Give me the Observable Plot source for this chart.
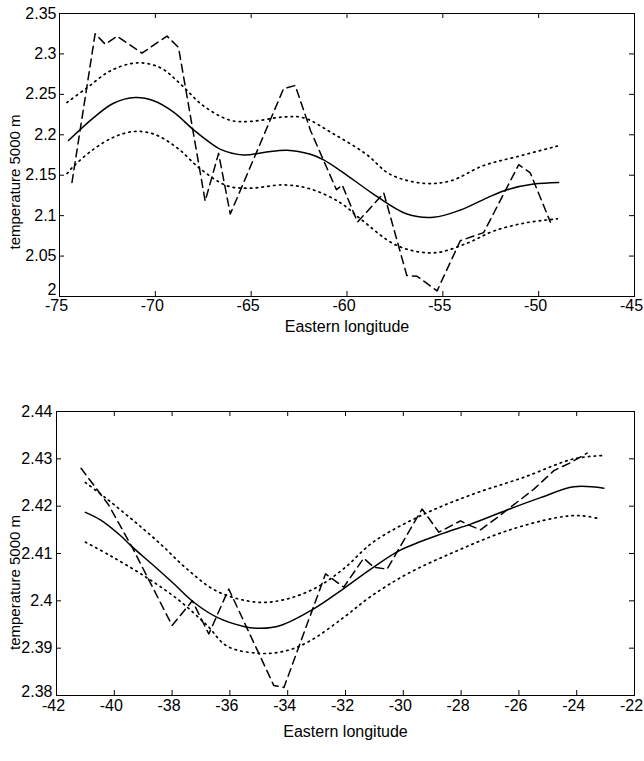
<!DOCTYPE html>
<html><head><meta charset="utf-8">
<script src="https://cdn.jsdelivr.net/npm/d3@7"></script>
<script src="https://cdn.jsdelivr.net/npm/@observablehq/plot@0.6"></script>
<style>body{margin:0;background:#fff} svg{display:block}</style>
</head><body><div id="chart"></div>
<script>
const xLabel = "Eastern longitude";
const yLabel = "temperature 5000 m";

// ---- top panel ----
const topXTicks = [-75, -70, -65, -60, -55, -50, -45];
const topYTicks = [2, 2.05, 2.1, 2.15, 2.2, 2.25, 2.3, 2.35];
const topFitLon  = [-74.53,-73.23,-72.18,-71.05,-70.09,-69.05,-68.0,-67.13,-66.6,-65.4,-64.35,-63.13,-61.91,-61.22,-60.18,-58.7,-56.87,-55.48,-54.08,-52.69,-51.65,-50.26,-48.96];
const topFitTemp = [2.193,2.221,2.239,2.246,2.242,2.228,2.206,2.190,2.182,2.175,2.178,2.181,2.176,2.169,2.153,2.128,2.102,2.098,2.107,2.122,2.132,2.139,2.141];
const topUpLon   = [-74.61,-73.57,-72.35,-70.96,-69.74,-68.7,-67.5,-66.1,-65.05,-63.31,-62.26,-60.7,-59.0,-57.74,-56.0,-54.6,-52.87,-51.12,-49.03];
const topUpTemp  = [2.240,2.258,2.279,2.289,2.283,2.263,2.236,2.218,2.2165,2.222,2.221,2.201,2.176,2.151,2.140,2.143,2.162,2.173,2.186];
const topLoLon   = [-74.6,-74.27,-73.23,-72.18,-71.13,-70.09,-68.87,-67.66,-66.26,-65.05,-63.31,-61.91,-60.35,-59.3,-57.39,-55.48,-53.73,-52.34,-50.7,-49.03];
const topLoTemp  = [2.152,2.161,2.182,2.197,2.204,2.201,2.184,2.158,2.137,2.134,2.138,2.133,2.116,2.096,2.063,2.054,2.066,2.081,2.091,2.096];
const topObsLon  = [-74.35,-73.14,-72.61,-72.0,-70.7,-69.39,-68.79,-67.4,-66.7,-66.09,-63.31,-62.7,-61.9,-60.55,-60.25,-59.45,-58.08,-56.88,-56.34,-55.3,-54.09,-52.87,-51.04,-50.44,-49.39];
const topObsTemp = [2.141,2.325,2.312,2.322,2.301,2.322,2.308,2.118,2.177,2.102,2.257,2.261,2.205,2.132,2.138,2.092,2.128,2.026,2.025,2.007,2.069,2.079,2.163,2.153,2.092];

// ---- bottom panel ----
const botXTicks = [-42, -40, -38, -36, -34, -32, -30, -28, -26, -24, -22];
const botYTicks = [2.38, 2.39, 2.4, 2.41, 2.42, 2.43, 2.44];
const botFitLon  = [-41.0,-40.48,-39.79,-39.38,-38.63,-37.94,-37.25,-36.44,-35.52,-34.94,-34.25,-33.10,-32.06,-31.05,-30.10,-28.6,-27.67,-26.41,-25.25,-24.10,-23.06];
const botFitTemp = [2.4187,2.4171,2.4138,2.4114,2.4074,2.4036,2.3997,2.3965,2.3946,2.3942,2.3948,2.3983,2.4026,2.4070,2.4107,2.4143,2.4162,2.4192,2.4218,2.4241,2.4238];
const botUpLon   = [-41.0,-40.25,-39.33,-38.40,-37.48,-36.44,-35.05,-34.02,-32.98,-32.06,-31.02,-29.29,-27.56,-25.83,-24.10,-23.06];
const botUpTemp  = [2.4250,2.4215,2.4169,2.4120,2.4067,2.4020,2.3997,2.4004,2.4029,2.4068,2.4125,2.4183,2.4226,2.4261,2.4300,2.4307];
const botLoLon   = [-41.0,-40.13,-38.98,-37.82,-36.79,-36.09,-34.94,-34.02,-33.21,-32.06,-31.13,-29.86,-28.13,-26.41,-24.67,-23.87,-23.18];
const botLoTemp  = [2.4124,2.4095,2.4053,2.4004,2.3948,2.3904,2.3889,2.3895,2.3916,2.3965,2.4009,2.4057,2.4106,2.4148,2.4176,2.4180,2.4173];
const botObsLon  = [-41.15,-40.2,-39.38,-38.0,-37.3,-36.73,-36.04,-34.48,-34.13,-32.69,-32.06,-31.37,-31.02,-30.56,-29.35,-28.77,-28.02,-27.73,-27.33,-26.75,-25.48,-24.79,-24.21,-23.64];
const botObsTemp = [2.4280,2.4203,2.4113,2.3948,2.4000,2.3930,2.4025,2.3821,2.3817,2.4057,2.4029,2.4090,2.4071,2.4067,2.4194,2.4145,2.4169,2.4160,2.4150,2.4176,2.4236,2.4275,2.4292,2.4312];

const zip = (xs, ys) => xs.map((x, i) => ({lon: x, temp: ys[i]}));

function panel(o) {
  const W = o.width - o.ml - o.mr;
  const H = o.height - o.mt - o.mb;
  const fmt = d => String(d);
  return Plot.plot({
    width: o.width, height: o.height,
    marginLeft: o.ml, marginRight: o.mr, marginTop: o.mt, marginBottom: o.mb,
    style: {fontFamily: "'Liberation Sans', Arial, sans-serif", fontSize: "16px", color: "black", background: "white"},
    x: {domain: o.xDomain},
    y: {domain: o.yDomain},
    marks: [
      Plot.frame({stroke: "black", strokeWidth: 1}),
      Plot.ruleX(o.xTicks, {x: d => d, insetTop: H - 5, stroke: "black"}),
      Plot.ruleX(o.xTicks, {x: d => d, insetBottom: H - 5, stroke: "black"}),
      Plot.ruleY(o.yTicks, {y: d => d, insetRight: W - 5, stroke: "black"}),
      Plot.ruleY(o.yTicks, {y: d => d, insetLeft: W - 5, stroke: "black"}),
      Plot.axisX(o.xTicks, {tickSize: 0, tickPadding: o.xPad, tickFormat: fmt, label: null, fontSize: 16, dx: -3}),
      Plot.axisY(o.yTicks.slice(1), {tickSize: 0, tickPadding: o.yPad, tickFormat: fmt, label: null, fontSize: 16}),
      Plot.axisY(o.yTicks.slice(0, 1), {tickSize: 0, tickPadding: o.yPad, tickFormat: fmt, label: null, fontSize: 16, dy: o.firstYDy}),
      Plot.line(zip(o.upLon, o.upTemp), {x: "lon", y: "temp", curve: "catmull-rom", stroke: "black", strokeWidth: 1.7, strokeDasharray: "1.5,4.3"}),
      Plot.line(zip(o.loLon, o.loTemp), {x: "lon", y: "temp", curve: "catmull-rom", stroke: "black", strokeWidth: 1.7, strokeDasharray: "1.5,4.3"}),
      Plot.line(zip(o.fitLon, o.fitTemp), {x: "lon", y: "temp", curve: "catmull-rom", stroke: "black", strokeWidth: 1.5}),
      Plot.line(zip(o.obsLon, o.obsTemp), {x: "lon", y: "temp", stroke: "black", strokeWidth: 1.5, strokeDasharray: "8,5"}),
      Plot.text([xLabel], {text: d => d, frameAnchor: "bottom", lineAnchor: "top", dy: o.xLabelDy, fontSize: 16}),
      Plot.text([yLabel], {text: d => d, frameAnchor: "left", textAnchor: "middle", rotate: -90, lineAnchor: "middle", dx: o.yLabelDx, dy: o.yLabelDy, fontSize: 15})
    ]
  });
}

const topPanel = panel({
  width: 644, height: 380, ml: 59, mr: 10, mt: 13, mb: 84,
  xDomain: [-75, -45], yDomain: [2, 2.35], xTicks: topXTicks, yTicks: topYTicks,
  fitLon: topFitLon, fitTemp: topFitTemp, upLon: topUpLon, upTemp: topUpTemp,
  loLon: topLoLon, loTemp: topLoTemp, obsLon: topObsLon, obsTemp: topObsTemp,
  xPad: 3, yPad: 3, firstYDy: -7, xLabelDy: 24, yLabelDx: -44, yLabelDy: 27
});
const bottomPanel = panel({
  width: 644, height: 381, ml: 56, mr: 10, mt: 31, mb: 66,
  xDomain: [-42, -22], yDomain: [2.38, 2.44], xTicks: botXTicks, yTicks: botYTicks,
  fitLon: botFitLon, fitTemp: botFitTemp, upLon: botUpLon, upTemp: botUpTemp,
  loLon: botLoLon, loTemp: botLoTemp, obsLon: botObsLon, obsTemp: botObsTemp,
  xPad: 4, yPad: 4, firstYDy: -4, xLabelDy: 30, yLabelDx: -41, yLabelDy: 29
});
const el = document.getElementById("chart");
el.appendChild(topPanel);
el.appendChild(bottomPanel);
</script>
</body></html>
